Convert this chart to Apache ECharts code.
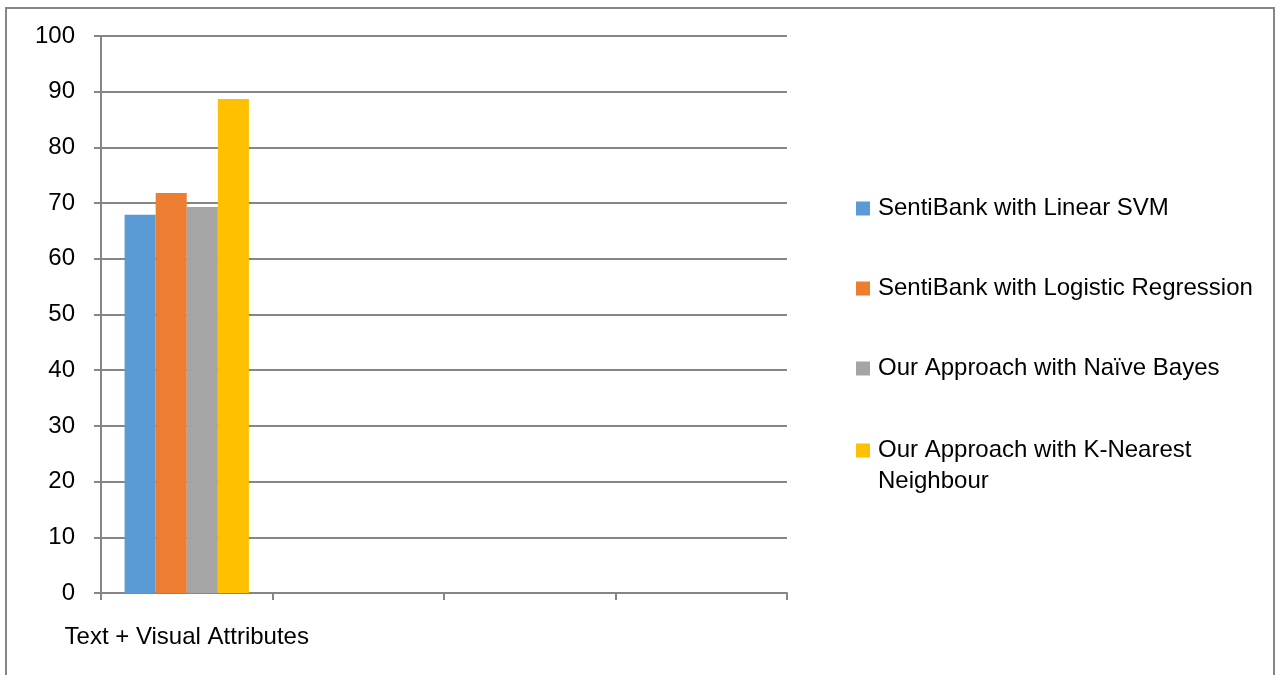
<!DOCTYPE html>
<html>
<head>
<meta charset="utf-8">
<script src="https://cdn.jsdelivr.net/npm/echarts@6/dist/echarts.min.js"></script>
<style>
html,body{margin:0;padding:0;background:#fff;}
#chart{width:1277px;height:675px;}
</style>
</head>
<body>
<div id="chart"></div>
<script>
// ---- data ----
const categories = ['Text + Visual Attributes', '', '', ''];
const seriesNames = [
  'SentiBank with Linear SVM',
  'SentiBank with Logistic Regression',
  'Our Approach with Naïve Bayes',
  'Our Approach with K-Nearest Neighbour'
];
const svmValues = [67.9, null, null, null];
const logRegValues = [71.8, null, null, null];
const naiveBayesValues = [69.3, null, null, null];
const knnValues = [88.7, null, null, null];
const yTicks = [0, 10, 20, 30, 40, 50, 60, 70, 80, 90, 100];

const colors = ['#5b9bd5', '#ed7d31', '#a5a5a5', '#ffc000'];
const allValues = [svmValues, logRegValues, naiveBayesValues, knnValues];
const FONT = 'Liberation Sans';
const GRAY = '#868686';

const legendTops = [187, 267, 347, 398];
const legends = seriesNames.map((name, i) => {
  const last = i === seriesNames.length - 1;
  return {
    data: [name],
    orient: 'vertical',
    left: 851,
    top: legendTops[i],
    itemWidth: 14,
    itemHeight: 14,
    icon: 'rect',
    selectedMode: false,
    formatter: last ? () => '\nOur Approach with K-Nearest\nNeighbour' : undefined,
    textStyle: {
      fontFamily: FONT,
      fontSize: 24,
      color: '#000',
      lineHeight: 31,
      padding: [2, 0, 0, 3]
    }
  };
});

const chart = echarts.init(document.getElementById('chart'), null, {renderer: 'canvas'});
chart.setOption({
  animation: false,
  backgroundColor: '#fff',
  graphic: [{
    type: 'rect',
    shape: {x: 6, y: 8, width: 1268, height: 720},
    style: {fill: 'none', stroke: GRAY, lineWidth: 2},
    silent: true
  }],
  legend: legends,
  grid: {left: 101, right: 490, top: 36, bottom: 82, containLabel: false},
  xAxis: {
    type: 'category',
    data: categories,
    axisLine: {show: true, lineStyle: {color: GRAY, width: 2}},
    axisTick: {show: true, length: 7, lineStyle: {color: GRAY, width: 2}},
    axisLabel: {interval: 0, margin: 32, color: '#000', fontFamily: FONT, fontSize: 24},
    splitLine: {show: false}
  },
  yAxis: {
    type: 'value',
    min: yTicks[0],
    max: yTicks[yTicks.length - 1],
    interval: yTicks[1] - yTicks[0],
    axisLine: {show: true, lineStyle: {color: GRAY, width: 2}},
    axisTick: {show: true, length: 7, lineStyle: {color: GRAY, width: 2}},
    axisLabel: {margin: 26, color: '#000', fontFamily: FONT, fontSize: 24},
    splitLine: {show: true, lineStyle: {color: GRAY, width: 2}}
  },
  series: seriesNames.map((name, i) => ({
    name: name,
    type: 'bar',
    data: allValues[i],
    itemStyle: {color: colors[i]},
    barGap: '0%',
    barCategoryGap: '27.5%'
  }))
});
</script>
</body>
</html>
